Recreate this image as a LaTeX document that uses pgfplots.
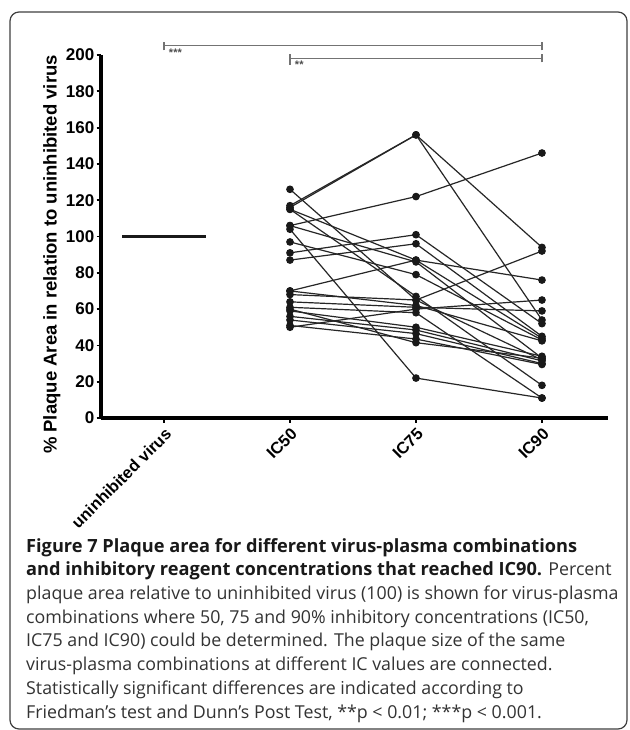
\documentclass[border=0pt]{standalone}
\usepackage{pgfplots}
\pgfplotsset{compat=1.18}
\usepackage{fontspec}
\setmainfont{Liberation Sans}
\newfontfamily\capfont{Open Sans}

\begin{document}
\begin{tikzpicture}
\useasboundingbox (0,0) rectangle (629pt,-730pt);
\fill[white] (0,0) rectangle (629pt,-730pt);
\draw[line width=1.2pt, black!75, rounded corners=9pt] (10pt,-12pt) rectangle (627pt,-729pt);

\begin{axis}[
    at={(101pt,-418pt)}, anchor=south west,
    scale only axis,
    width=507pt, height=363pt,
    xmin=-0.5, xmax=3.524,
    ymin=0, ymax=200,
    clip=false,
    axis x line=bottom, axis y line=left,
    axis line style={line width=3.5pt, -},
    x axis line style={line width=3.5pt, -},
    y axis line style={line width=3.5pt, -},
    /pgf/number format/assume math mode=true,
    xtick={0,1,2,3},
    xticklabels={uninhibited virus, IC50, IC75, IC90},
    ytick={0,20,...,200},
    tick align=outside,
    major tick length=4.5pt,
    tick style={line width=1.8pt, black},
    xticklabel style={rotate=45, anchor=north east, inner sep=3pt,
        font=\bfseries\fontsize{16.5}{16.5}\selectfont},
    yticklabel style={inner sep=2pt, font=\bfseries\fontsize{17}{17}\selectfont},
    ylabel={\% Plaque Area in relation to uninhibited virus},
    ylabel style={font=\bfseries\fontsize{18.5}{18.5}\selectfont, xshift=-18pt},
    pt/.style={black!85, line width=1.2pt, mark=*, mark size=3.2pt, mark options={solid, fill=black!90, draw=black!90}},
    bar/.style={black!55, line width=1.1pt, no marks},
]

% uninhibited virus reference
\addplot[black!90, line width=2.2pt, no marks] coordinates {(-0.33,100) (0.33,100)};

% IC50 -> IC75 -> IC90
\addplot[pt] coordinates {(1,116) (2,156) (3,94)};
\addplot[pt] coordinates {(1,117) (2,156) (3,54)};
\addplot[pt] coordinates {(1,106) (2,122) (3,146)};
\addplot[pt] coordinates {(1,126) (2,65) (3,32)};
\addplot[pt] coordinates {(1,104) (2,22) (3,11)};
\addplot[pt] coordinates {(1,115) (2,87) (3,44)};
\addplot[pt] coordinates {(1,115) (2,67) (3,18)};
\addplot[pt] coordinates {(1,97) (2,79) (3,43)};
\addplot[pt] coordinates {(1,91) (2,101) (3,52)};
\addplot[pt] coordinates {(1,87) (2,96) (3,45)};
\addplot[pt] coordinates {(1,106) (2,86) (3,33)};
\addplot[pt] coordinates {(1,70) (2,87) (3,76)};
\addplot[pt] coordinates {(1,68) (2,65) (3,92)};
\addplot[pt] coordinates {(1,64) (2,61) (3,59)};
\addplot[pt] coordinates {(1,50) (2,60) (3,65)};
\addplot[pt] coordinates {(1,61) (2,58) (3,11)};
\addplot[pt] coordinates {(1,59) (2,50) (3,34)};
\addplot[pt] coordinates {(1,56) (2,48.5) (3,31.5)};
\addplot[pt] coordinates {(1,54) (2,46.5) (3,30)};
\addplot[pt] coordinates {(1,51) (2,43.5) (3,29.5)};
\addplot[pt] coordinates {(1,60) (2,41.5) (3,33)};
\addplot[pt] coordinates {(1,70) (2,62) (3,42.5)};

% significance bars
\addplot[bar] coordinates {(0,205) (3,205)};
\addplot[bar] coordinates {(0,202.5) (0,207)};
\addplot[bar] coordinates {(3,202.5) (3,207)};
\addplot[bar] coordinates {(1,198.3) (3,198.3)};
\addplot[bar] coordinates {(1,194.5) (1,200.5)};
\addplot[bar] coordinates {(3,196) (3,200.5)};
\node[anchor=north west, inner sep=1pt, font=\bfseries\fontsize{11}{11}\selectfont, black!70] at (axis cs:0.03,204.2) {***};
\node[anchor=north west, inner sep=1pt, font=\bfseries\fontsize{11}{11}\selectfont, black!70] at (axis cs:1.03,197.5) {**};
\end{axis}

\node[anchor=north west, align=left, inner sep=0pt, text=black!80,
      font=\capfont\fontsize{17.8}{23.7}\selectfont] at (26pt,-538pt) {%
\textcolor{black!90}{\fontsize{18.2}{23.7}\selectfont\textbf{Figure 7 Plaque area for different virus-plasma combinations}}\\
\textcolor{black!90}{\fontsize{18.2}{23.7}\selectfont\textbf{and inhibitory reagent concentrations that reached IC90.}} Percent\\
plaque area relative to uninhibited virus (100) is shown for virus-plasma\\
combinations where 50, 75 and 90\% inhibitory concentrations (IC50,\\
IC75 and IC90) could be determined. The plaque size of the same\\
virus-plasma combinations at different IC values are connected.\\
Statistically significant differences are indicated according to\\
Friedman’s test and Dunn’s Post Test, **p < 0.01; ***p < 0.001.};
\end{tikzpicture}
\end{document}
